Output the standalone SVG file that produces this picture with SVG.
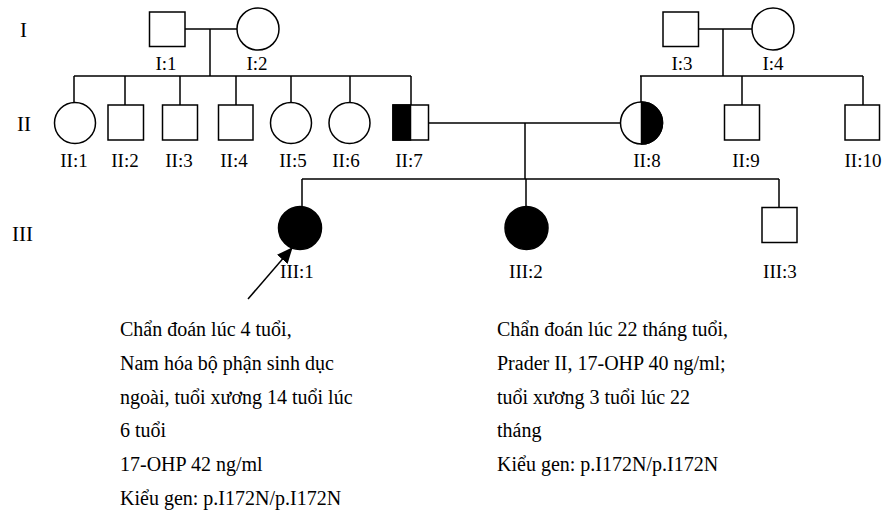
<svg xmlns="http://www.w3.org/2000/svg" width="889" height="522" viewBox="0 0 889 522">
<style>
.s{fill:#fff;stroke:#000;stroke-width:1.5}
.a{fill:#000;stroke:#000;stroke-width:1.5}
.l{fill:none;stroke:#000;stroke-width:1.5}
text{font-family:"Liberation Serif","Times New Roman",serif;fill:#000}
.g{font-size:21px}
.n{font-size:19px;text-anchor:middle}
.t{font-size:20px}
</style>
<defs>
<marker id="ah" markerWidth="16" markerHeight="14" refX="15" refY="7" orient="auto" markerUnits="userSpaceOnUse">
<path d="M0,0 L16,7 L0,14 z" fill="#000"/>
</marker>
</defs>
<g id="gen-labels">
<text class="g" x="20" y="37">I</text>
<text class="g" x="17" y="131">II</text>
<text class="g" x="12" y="241">III</text>
</g>
<g id="connectors">
<path class="l" d="M185,29 H237 M210,29 V76 M74,76 H411 M74,76 V103 M125,76 V105 M180,76 V105 M236,76 V105 M291,76 V102 M350,76 V102 M411,76 V105"/>
<path class="l" d="M699,29 H752 M723,29 V76 M640,76 H863 M641,76 V102 M742,76 V105 M863,76 V105"/>
<path class="l" d="M428,123 H620 M525,123 V179 M302,179 H779 M302,179 V207 M526,179 V207 M779,179 V207"/>
<line class="l" x1="248" y1="299" x2="292" y2="248" stroke-width="2.5" marker-end="url(#ah)"/>
</g>
<g id="I1"><rect class="s" x="149.5" y="12" width="35.5" height="34.5"/><text class="n" x="166" y="70">I:1</text></g>
<g id="I2"><circle class="s" cx="258" cy="29" r="21"/><text class="n" x="257" y="70">I:2</text></g>
<g id="I3"><rect class="s" x="663" y="12" width="35.5" height="34.5"/><text class="n" x="682" y="70">I:3</text></g>
<g id="I4"><circle class="s" cx="773" cy="29" r="21"/><text class="n" x="773" y="70">I:4</text></g>
<g id="II1"><circle class="s" cx="75" cy="123" r="20.5"/><text class="n" x="74" y="167">II:1</text></g>
<g id="II2"><rect class="s" x="108" y="105" width="35.5" height="35"/><text class="n" x="125" y="167">II:2</text></g>
<g id="II3"><rect class="s" x="162.5" y="105" width="35" height="35"/><text class="n" x="179" y="167">II:3</text></g>
<g id="II4"><rect class="s" x="218.5" y="105" width="34.5" height="35"/><text class="n" x="234" y="167">II:4</text></g>
<g id="II5"><circle class="s" cx="291" cy="123" r="20.5"/><text class="n" x="293" y="167">II:5</text></g>
<g id="II6"><circle class="s" cx="349.5" cy="123" r="20.5"/><text class="n" x="346" y="167">II:6</text></g>
<g id="II7"><rect class="s" x="393" y="105" width="35.5" height="35"/><rect class="a" x="393" y="105" width="17.5" height="35"/><text class="n" x="409" y="167">II:7</text></g>
<g id="II8"><circle class="s" cx="641.5" cy="123" r="21"/><path class="a" d="M641.5,102 A21,21 0 0 1 641.5,144 Z"/><text class="n" x="647" y="167">II:8</text></g>
<g id="II9"><rect class="s" x="724.5" y="105" width="35" height="35"/><text class="n" x="746" y="167">II:9</text></g>
<g id="II10"><rect class="s" x="845" y="105" width="34.5" height="35"/><text class="n" x="863" y="167">II:10</text></g>
<g id="III1"><circle class="a" cx="300" cy="228" r="21.5"/><text class="n" x="297" y="278">III:1</text></g>
<g id="III2"><circle class="a" cx="526.5" cy="228" r="21.5"/><text class="n" x="526" y="278">III:2</text></g>
<g id="III3"><rect class="s" x="762" y="207.5" width="35" height="35"/><text class="n" x="780" y="278">III:3</text></g>
<g id="note-III1">
<text class="t" x="120" y="336">Chẩn đoán lúc 4 tuổi,</text>
<text class="t" x="120" y="370">Nam hóa bộ phận sinh dục</text>
<text class="t" x="120" y="404">ngoài, tuổi xương 14 tuổi lúc</text>
<text class="t" x="120" y="437">6 tuổi</text>
<text class="t" x="120" y="471">17-OHP 42 ng/ml</text>
<text class="t" x="120" y="505">Kiểu gen: p.I172N/p.I172N</text>
</g>
<g id="note-III2">
<text class="t" x="497" y="336">Chẩn đoán lúc 22 tháng tuổi,</text>
<text class="t" x="497" y="370">Prader II, 17-OHP 40 ng/ml;</text>
<text class="t" x="497" y="404">tuổi xương 3 tuổi lúc 22</text>
<text class="t" x="497" y="437">tháng</text>
<text class="t" x="497" y="471">Kiểu gen: p.I172N/p.I172N</text>
</g>
</svg>
